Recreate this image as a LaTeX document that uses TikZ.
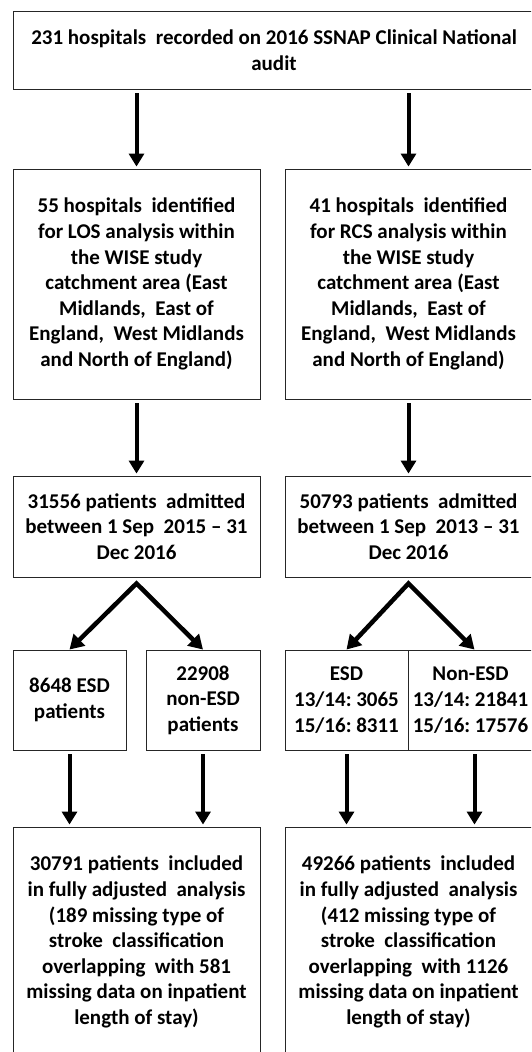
\documentclass[tikz,border=0pt]{standalone}
\usepackage{fontspec}
\setmainfont{Carlito}
\usetikzlibrary{arrows.meta}
\begin{document}
\begin{tikzpicture}[x=1pt,y=-1pt,
  box/.style={draw=black!85, line width=0.9pt, inner sep=0pt, align=center,
    font=\bfseries\fontsize{21}{25.6}\selectfont},
  arrow/.style={line width=4pt, -{Triangle[width=15pt,length=13pt]},
    shorten <=4pt, shorten >=2pt},
  darrow/.style={line width=4.5pt, line join=miter,
    {Triangle[width=16pt,length=14pt]}-{Triangle[width=16pt,length=14pt]}}]
\useasboundingbox (0,0) rectangle (531,1052);
\clip (0,0) rectangle (531,1052);

\node[box, minimum width=522pt, minimum height=78pt] (top) at (274,50)
  {231 hospitals\ \ recorded on 2016 SSNAP Clinical National\\audit};

\node[box, minimum width=247pt, minimum height=230pt] (los) at (136.5,284)
  {55 hospitals\ \ identified\\for LOS analysis within\\the WISE study\\catchment area (East\\Midlands,\ \ East of\\England,\ \ West Midlands\\and North of England)};
\node[box, minimum width=247pt, minimum height=230pt] (rcs) at (408.5,284)
  {41 hospitals\ \ identified\\for RCS analysis within\\the WISE study\\catchment area (East\\Midlands,\ \ East of\\England,\ \ West Midlands\\and North of England)};

\node[box, minimum width=247pt, minimum height=101pt] (patl) at (136.5,526.5)
  {31556 patients\ \ admitted\\between 1 Sep\ \ 2015 – 31\\Dec 2016};
\node[box, minimum width=247pt, minimum height=101pt] (patr) at (408.5,526.5)
  {50793 patients\ \ admitted\\between 1 Sep\ \ 2013 – 31\\Dec 2016};

\node[box, minimum width=113pt, minimum height=100pt] (esda) at (69.5,700)
  {8648 ESD\\patients};
\node[box, minimum width=114pt, minimum height=100pt] (esdb) at (203,700)
  {22908\\non-ESD\\patients};
\node[box, minimum width=123pt, minimum height=100pt] (esdc) at (346.5,700)
  {ESD\\13/14:\ 3065\\15/16:\ 8311};
\node[box, minimum width=125pt, minimum height=100pt] (esdd) at (470.5,700)
  {Non-ESD\\13/14:\ 21841\\15/16:\ 17576};

\node[box, minimum width=247pt, minimum height=230pt] (botl) at (136.5,942)
  {30791 patients\ \ included\\in fully adjusted\ \ analysis\\(189 missing type of\\stroke\ \ classification\\overlapping\ \ with 581\\missing data on inpatient\\length of stay)};
\node[box, minimum width=247pt, minimum height=230pt] (botr) at (408.5,942)
  {49266 patients\ \ included\\in fully adjusted\ \ analysis\\(412 missing type of\\stroke\ \ classification\\overlapping\ \ with 1126\\missing data on inpatient\\length of stay)};

\draw[arrow] (top.south -| los.north) -- (los.north);
\draw[arrow] (top.south -| rcs.north) -- (rcs.north);
\draw[arrow] (los.south) -- (patl.north);
\draw[arrow] (rcs.south) -- (patr.north);

\draw[darrow] (esda.north) -- ([yshift=-6pt]patl.south) -- (esdb.north);
\draw[darrow] (esdc.north) -- ([yshift=-6pt]patr.south) -- ([xshift=4pt]esdd.north);

\draw[arrow] (esda.south) -- (esda.south |- botl.north);
\draw[arrow] (esdb.south) -- (esdb.south |- botl.north);
\draw[arrow] (esdc.south) -- (esdc.south |- botr.north);
\draw[arrow] ([xshift=4pt]esdd.south) -- ([xshift=4pt]esdd.south |- botr.north);
\end{tikzpicture}
\end{document}
